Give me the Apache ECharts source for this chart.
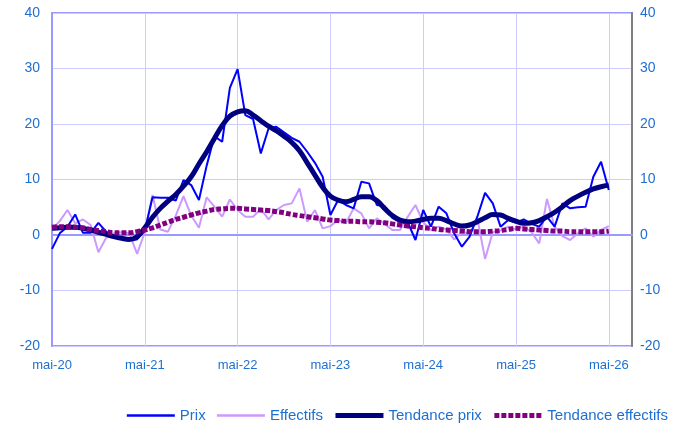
<!DOCTYPE html>
<html>
<head>
<meta charset="utf-8">
<script src="https://cdn.jsdelivr.net/npm/echarts@6/dist/echarts.min.js"></script>
<style>
html,body{margin:0;padding:0;background:#fff;}
#chart{width:675px;height:432px;}
</style>
</head>
<body>
<div id="chart"></div>
<script>
// Month names (French, Excel "mmm-yy" style) and axis span: mai-20 .. août-26
const monthNames = ['janv','févr','mars','avr','mai','juin','juil','août','sept','oct','nov','déc'];
const categories = [];
for (let k = 0; k < 76; k++) {
  const m = (4 + k) % 12;
  const y = 20 + Math.floor((4 + k) / 12);
  categories.push(monthNames[m] + '-' + y);
}

const prix = [
  -2.5, 0.3, 1.5, 3.7, 0.4, 0.4, 2.2, 0.6, -0.3, -0.7, -0.8, -0.8,
  0.8, 6.8, 6.7, 6.7, 6.2, 9.9, 9.0, 6.3, 12.5, 17.8, 16.8, 26.5,
  29.9, 21.6, 20.9, 14.7, 19.2, 19.5, 18.5, 17.5, 16.8, 15.0, 13.0, 10.5,
  3.6, 6.3, 5.4, 4.8, 9.6, 9.3, 5.4, 5.2, 3.1, 2.3, 2.3, -0.9,
  4.5, 1.5, 5.1, 3.9, 0.3, -2.1, -0.3, 3.3, 7.6, 5.7, 1.5, 2.7,
  2.2, 2.8, 2.0, 1.5, 3.3, 1.5, 5.7, 4.8, 5.0, 5.1, 10.5, 13.2,
  8.1
];
const effectifs = [
  1.0, 2.5, 4.5, 2.1, 2.8, 1.8, -3.1, -0.5, 0.3, 0.5, 0.3, -3.4,
  0.5, 7.2, 1.0, 0.6, 3.5, 7.0, 3.5, 1.3, 6.8, 5.1, 3.3, 6.4,
  4.5, 3.3, 3.3, 4.7, 2.8, 4.5, 5.4, 5.7, 8.4, 2.4, 4.5, 1.2,
  1.6, 2.7, 2.1, 4.8, 3.9, 1.2, 3.0, 2.0, 0.9, 0.9, 3.3, 5.4,
  2.3, 0.9, 1.5, 1.0, -0.8, 0.5, 0.3, 3.0, -4.3, 0.5, 0.8, 1.5,
  1.0, 1.5, 0.5, -1.5, 6.5, 1.5, -0.2, -0.9, 0.3, 1.2, -0.3, 0.9,
  1.6
];
const tendancePrix = [
  1.2, 1.3, 1.4, 1.4, 1.2, 0.9, 0.5, 0.1, -0.3, -0.6, -0.8, -0.3,
  1.3, 3.2, 4.8, 6.1, 7.3, 8.8, 10.5, 12.8, 15.0, 17.4, 19.7, 21.4,
  22.2, 22.4, 21.6, 20.6, 19.6, 18.8, 17.8, 16.7, 15.2, 13.0, 10.8, 8.6,
  7.0, 6.3, 6.0, 6.4, 6.9, 6.9, 6.2, 4.8, 3.5, 2.7, 2.4, 2.5,
  2.8, 3.0, 3.0, 2.6, 2.0, 1.6, 1.8, 2.4, 3.1, 3.7, 3.6, 3.0,
  2.5, 2.1, 2.2, 2.6, 3.3, 4.1, 5.1, 6.2, 7.0, 7.7, 8.3, 8.7,
  9.0
];
const tendanceEffectifs = [
  1.4, 1.5, 1.5, 1.4, 1.3, 1.0, 0.8, 0.6, 0.4, 0.4, 0.4, 0.6,
  0.9, 1.3, 1.8, 2.3, 2.8, 3.2, 3.6, 4.0, 4.3, 4.6, 4.7, 4.8,
  4.8, 4.7, 4.6, 4.5, 4.4, 4.2, 4.0, 3.7, 3.5, 3.3, 3.1, 2.9,
  2.7, 2.6, 2.5, 2.5, 2.4, 2.4, 2.3, 2.2, 2.0, 1.8, 1.6, 1.5,
  1.3, 1.2, 1.0, 0.9, 0.8, 0.7, 0.6, 0.6, 0.6, 0.7, 0.8, 1.0,
  1.2, 1.1, 1.0, 0.9, 0.8, 0.7, 0.7, 0.6, 0.6, 0.6, 0.6, 0.6,
  0.7
];
const yTicks = { min: -20, max: 40, interval: 10 };

const labelColor = '#1f6fd1';
const font = 'Liberation Sans, Arial, sans-serif';

const chart = echarts.init(document.getElementById('chart'), null, {renderer: 'canvas'});
chart.setOption({
  animation: false,
  backgroundColor: '#ffffff',
  grid: {
    left: 52, right: 43, top: 13, bottom: 86,
    show: true, borderColor: '#9999ff', borderWidth: 2, backgroundColor: 'transparent'
  },
  legend: {
    bottom: 4, right: 2,
    itemWidth: 48, itemHeight: 12, itemGap: 10,
    data: [
      { name: 'Prix', lineStyle: { width: 2.5 } },
      { name: 'Effectifs', lineStyle: { width: 2.5 } },
      { name: 'Tendance prix', lineStyle: { width: 5 } },
      { name: 'Tendance effectifs', lineStyle: { width: 5 } }
    ],
    itemStyle: { opacity: 0 },
    lineStyle: { opacity: 1 },
    textStyle: { color: labelColor, fontSize: 15, fontFamily: font }
  },
  xAxis: {
    type: 'category',
    data: categories,
    boundaryGap: false,
    axisLine: { show: true, lineStyle: { color: '#9999ff', width: 2 } },
    axisTick: { show: false },
    axisLabel: { interval: 11, color: labelColor, fontSize: 13, fontFamily: font, margin: 13 },
    splitLine: { show: true, interval: 11, lineStyle: { color: '#ccccff', width: 1 } }
  },
  yAxis: [
    {
      type: 'value', min: yTicks.min, max: yTicks.max, interval: yTicks.interval,
      axisLine: { show: true, lineStyle: { color: '#9999ff', width: 2 } },
      axisTick: { show: false },
      axisLabel: { color: labelColor, fontSize: 14, fontFamily: font, margin: 12 },
      splitLine: { show: true, lineStyle: { color: '#ccccff', width: 1 } }
    },
    {
      type: 'value', position: 'right', min: yTicks.min, max: yTicks.max, interval: yTicks.interval,
      axisLine: { show: true, lineStyle: { color: '#808080', width: 2 } },
      axisTick: { show: false },
      axisLabel: { color: labelColor, fontSize: 14, fontFamily: font, margin: 8 },
      splitLine: { show: false }
    }
  ],
  series: [
    {
      name: 'Effectifs', type: 'line', data: effectifs, symbol: 'none', z: 2,
      lineStyle: { color: '#cc99ff', width: 2 }, itemStyle: { color: '#cc99ff' }
    },
    {
      name: 'Prix', type: 'line', data: prix, symbol: 'none', z: 3,
      lineStyle: { color: '#0000ff', width: 2 }, itemStyle: { color: '#0000ff' }
    },
    {
      name: 'Tendance prix', type: 'line', data: tendancePrix, symbol: 'none', z: 4, smooth: 0.4,
      lineStyle: { color: '#000080', width: 5 }, itemStyle: { color: '#000080' }
    },
    {
      name: 'Tendance effectifs', type: 'line', data: tendanceEffectifs, symbol: 'none', z: 5, smooth: 0.4,
      lineStyle: { color: '#800080', width: 5, type: [5, 2], cap: 'butt' }, itemStyle: { color: '#800080' }
    }
  ]
});
</script>
</body>
</html>
